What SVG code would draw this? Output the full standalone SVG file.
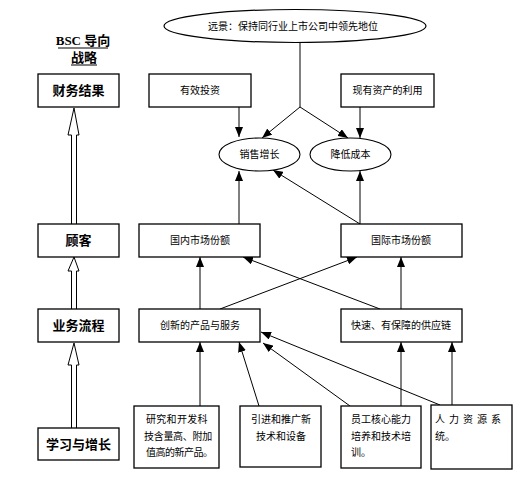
<svg xmlns="http://www.w3.org/2000/svg" width="523" height="480" viewBox="0 0 523 480">
<style>
.box{fill:#fff;stroke:#000;stroke-width:1.3}
.t{font-family:"Noto Sans CJK SC","Noto Sans",sans-serif;font-size:10px;fill:#000}
.c{text-anchor:middle}
.b{font-family:"Noto Sans CJK SC","Noto Sans",sans-serif;font-size:13px;font-weight:bold;text-anchor:middle;fill:#000}
.h{font-family:"Liberation Serif","Noto Sans CJK SC",serif;font-size:13px;font-weight:bold;text-anchor:middle;fill:#000}
.ln{stroke:#000;stroke-width:1;fill:none}
.dbl{fill:#fff;stroke:#000;stroke-width:1}
</style>
<defs>
<marker id="ah" viewBox="0 0 10 8" refX="10" refY="4" markerWidth="10" markerHeight="8" markerUnits="userSpaceOnUse" orient="auto">
<path d="M0,0 L10,4 L0,8 Z" fill="#000"/>
</marker>
</defs>
<rect width="523" height="480" fill="#fff"/>

<g id="title">
<text class="h" x="83" y="45">BSC 导向</text>
<line x1="58" y1="48" x2="108" y2="48" stroke="#000" stroke-width="1"/>
<text class="h" x="84" y="62">战略</text>
<line x1="71" y1="65" x2="97" y2="65" stroke="#000" stroke-width="1"/>
</g>

<g id="connectors">
<path class="ln" d="M300,43 V107"/>
<path class="ln" d="M300,107 L262,138" marker-end="url(#ah)"/>
<path class="ln" d="M300,107 L348,138" marker-end="url(#ah)"/>
<path class="ln" d="M239,107 V137" marker-end="url(#ah)"/>
<path class="ln" d="M360,107 V138" marker-end="url(#ah)"/>
<path class="ln" d="M239,224 V171" marker-end="url(#ah)"/>
<path class="ln" d="M360,224 V171" marker-end="url(#ah)"/>
<path class="ln" d="M360,224 L273,170" marker-end="url(#ah)"/>
<path class="ln" d="M200,309 V257" marker-end="url(#ah)"/>
<path class="ln" d="M401,309 V257" marker-end="url(#ah)"/>
<path class="ln" d="M220,309 L357,257" marker-end="url(#ah)"/>
<path class="ln" d="M380,309 L243,257" marker-end="url(#ah)"/>
<path class="ln" d="M200,406 V342" marker-end="url(#ah)"/>
<path class="ln" d="M259,406 L239,342" marker-end="url(#ah)"/>
<path class="ln" d="M350,406 L263,343" marker-end="url(#ah)"/>
<path class="ln" d="M440,405 L261,332" marker-end="url(#ah)"/>
<path class="ln" d="M401,406 V342" marker-end="url(#ah)"/>
<path class="ln" d="M452,405 V342" marker-end="url(#ah)"/>
<!-- hollow double arrows -->
<path class="dbl" d="M71.5,224 V135 H68 L74,108 L79,135 H76.5 V224"/>
<path class="dbl" d="M71.5,309 V271 H68 L74,257 L79,271 H76.5 V309"/>
<path class="dbl" d="M71.5,428 V365 H68 L74,343 L79,365 H76.5 V428"/>
</g>

<g id="vision">
<ellipse cx="295" cy="26" rx="131" ry="16.5" fill="#fff" stroke="#000" stroke-width="1.2"/>
<text class="t c" x="293" y="30">远景：保持同行业上市公司中领先地位</text>
</g>

<g id="financial">
<rect class="box" x="38" y="74" width="81" height="33"/>
<text class="b" x="78.5" y="95">财务结果</text>
</g>
<g id="invest">
<rect class="box" x="149" y="74" width="102" height="33"/>
<text class="t c" x="200" y="94">有效投资</text>
</g>
<g id="assets">
<rect class="box" x="341" y="74" width="93" height="33"/>
<text class="t c" x="387.5" y="94">现有资产的利用</text>
</g>

<g id="sales">
<ellipse cx="259.5" cy="154.5" rx="40.5" ry="16.5" fill="#fff" stroke="#000" stroke-width="1.1"/>
<text class="t c" x="259.5" y="158">销售增长</text>
</g>
<g id="cost">
<ellipse cx="350.5" cy="154.5" rx="40.5" ry="16.5" fill="#fff" stroke="#000" stroke-width="1.1"/>
<text class="t c" x="350.5" y="158">降低成本</text>
</g>

<g id="customer">
<rect class="box" x="38" y="224" width="81" height="33"/>
<text class="b" x="78.5" y="245">顾客</text>
</g>
<g id="domestic">
<rect class="box" x="139" y="224" width="121" height="33"/>
<text class="t c" x="200" y="244">国内市场份额</text>
</g>
<g id="intl">
<rect class="box" x="341" y="224" width="121" height="33"/>
<text class="t c" x="401" y="244">国际市场份额</text>
</g>

<g id="process">
<rect class="box" x="38" y="309" width="81" height="33"/>
<text class="b" x="78.5" y="330">业务流程</text>
</g>
<g id="innovation">
<rect class="box" x="139" y="309" width="121" height="33"/>
<text class="t c" x="200" y="329">创新的产品与服务</text>
</g>
<g id="supply">
<rect class="box" x="341" y="309" width="121" height="33"/>
<text class="t c" x="401" y="329">快速、有保障的供应链</text>
</g>

<g id="learning">
<rect class="box" x="38" y="428" width="81" height="32"/>
<text class="b" x="78.5" y="449">学习与增长</text>
</g>
<g id="rd">
<rect class="box" x="134" y="406" width="85" height="62"/>
<text class="t" x="146" y="423" letter-spacing="0.3">研究和开发科</text>
<text class="t" x="144" y="440" letter-spacing="-0.3">技含量高、附加</text>
<text class="t" x="146" y="456" letter-spacing="-0.5">值高的新产品。</text>
</g>
<g id="tech">
<rect class="box" x="240" y="406" width="81" height="61"/>
<text class="t c" x="281" y="423">引进和推广新</text>
<text class="t c" x="281" y="440">技术和设备</text>
</g>
<g id="staff">
<rect class="box" x="341" y="406" width="80" height="62"/>
<text class="t" x="351" y="423">员工核心能力</text>
<text class="t" x="351" y="440">培养和技术培</text>
<text class="t" x="351" y="456">训。</text>
</g>
<g id="hr">
<rect class="box" x="431" y="405" width="81" height="64"/>
<text class="t" x="435" y="423" letter-spacing="4">人力资源系</text>
<text class="t" x="435" y="440">统。</text>
</g>
</svg>
